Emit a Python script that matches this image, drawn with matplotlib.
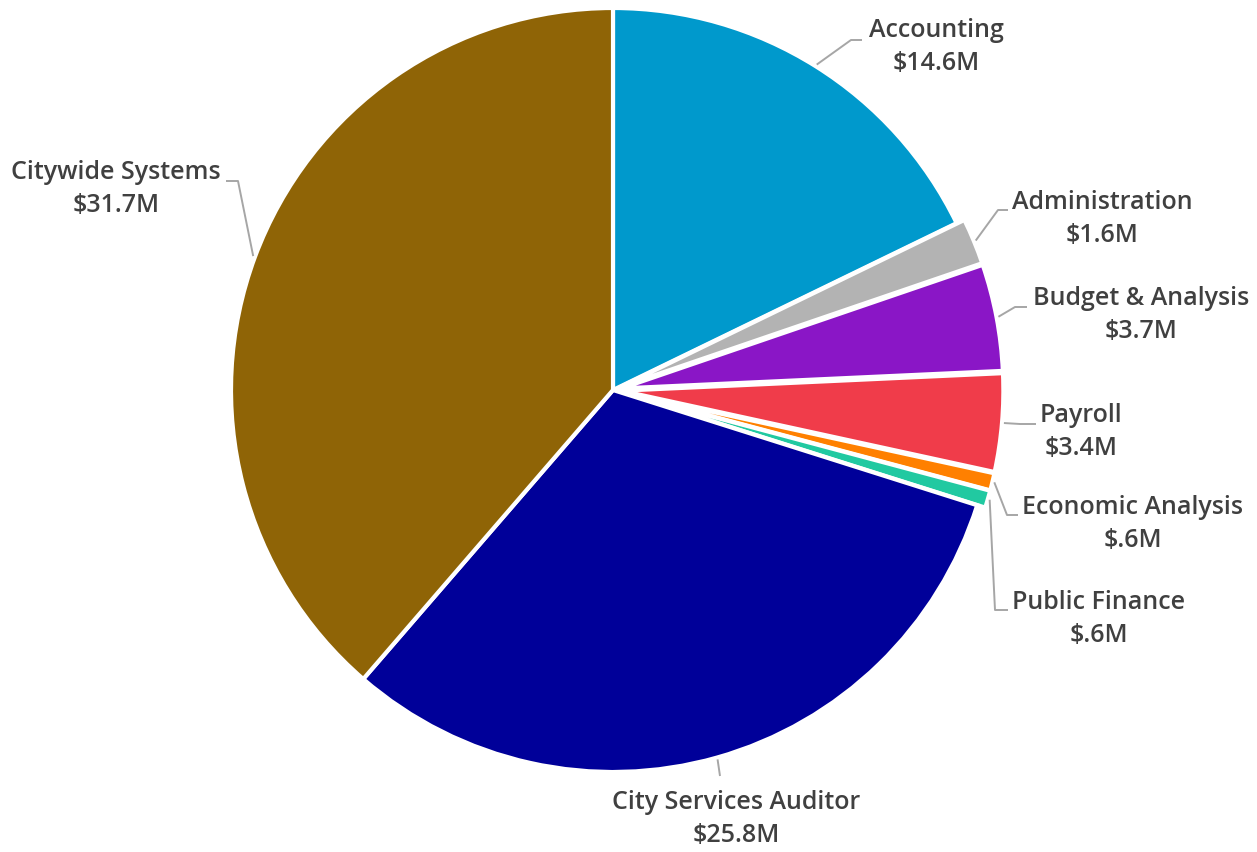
import matplotlib
matplotlib.use("Agg")
import matplotlib.pyplot as plt
import numpy as np

# Данные
names = ["Accounting", "Administration", "Budget & Analysis", "Payroll",
         "Economic Analysis", "Public Finance", "City Services Auditor",
         "Citywide Systems"]
values = [14.6, 1.6, 3.7, 3.4, 0.6, 0.6, 25.8, 31.7]
value_labels = ["$14.6M", "$1.6M", "$3.7M", "$3.4M", "$.6M", "$.6M", "$25.8M", "$31.7M"]
colors = ["#0099CC", "#B3B3B3", "#8A16C6", "#F03C4A", "#FF8000", "#21C9A1",
          "#000099", "#8F6406"]
explode = [0, 0.022, 0.022, 0.022, 0.022, 0.022, 0, 0]

# Размещение подписей в пикселях: центр текста, излом выноски, конец выноски
label_layout = [
    (936, 47, 851, 40, 862),
    (1102, 219, 998, 210, 1008),
    (1141, 315, 1015, 307, 1027),
    (1081, 432, 1020, 424, 1036),
    (1133, 524, 1007, 515, 1018),
    (1099, 619, 995, 610, 1008),
    (736, 819, 720, 776, 720),
    (116, 189, 238, 181, 226),
]

W, H = 1257, 852
CX, CY, R = 613, 390, 382


def px2d(px, py):
    return (px - CX) / R, (CY - py) / R


plt.rcParams['font.family'] = ['Open Sans', 'DejaVu Sans']
fig = plt.figure(figsize=(W / 100, H / 100), dpi=100)
ax = fig.add_axes([0, 0, 1, 1])

wedges, _ = ax.pie(values, colors=colors, startangle=90, counterclock=False,
                   explode=explode, radius=1,
                   wedgeprops=dict(edgecolor='white', linewidth=3))

for w, ex, name, vl, lay in zip(wedges, explode, names, value_labels, label_layout):
    mid = np.deg2rad((w.theta1 + w.theta2) / 2)
    r0 = 1.0 + ex + 0.005
    sx, sy = r0 * np.cos(mid), r0 * np.sin(mid)
    tx, ty, ex_x, ex_y, end_x = lay
    exd, eyd = px2d(ex_x, ex_y)
    endd, _ = px2d(end_x, ex_y)
    ax.plot([sx, exd, endd], [sy, eyd, eyd], color='#A6A6A6', lw=1.4,
            solid_capstyle='butt')
    txd, tyd = px2d(tx, ty)
    ax.text(txd, tyd, f"{name}\n{vl}", ha='center', va='center',
            multialignment='center', fontsize=18, fontweight='semibold',
            color='#404040', linespacing=1.45)

ax.set_xlim(-CX / R, (W - CX) / R)
ax.set_ylim(-(H - CY) / R, CY / R)
ax.set_aspect('equal')
ax.axis('off')

plt.savefig('out.png', dpi=100)
